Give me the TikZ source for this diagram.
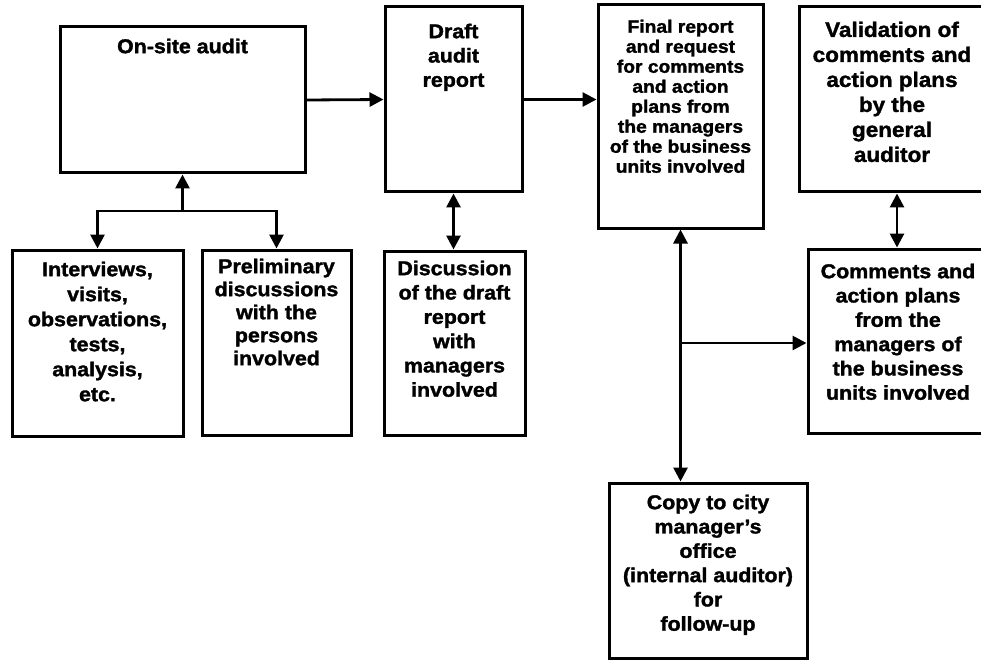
\documentclass[tikz,border=0pt]{standalone}
\usepackage{fontspec}
\setmainfont{Liberation Sans}[FakeStretch=1.07, BoldFeatures={FakeBold=1.6}]
\usetikzlibrary{arrows.meta}
\begin{document}
\begin{tikzpicture}[x=1pt,y=-1pt,
  box/.style={draw, line width=3pt, inner sep=0pt, fill=white},
  txt/.style={font=\bfseries\fontsize{20}{24.3}\selectfont, align=center, inner sep=0pt, anchor=north},
  smalltxt/.style={font=\bfseries\fontsize{18}{20}\selectfont},
  conn/.style={line width=2.8pt},
  tip/.style={-{Triangle[length=14pt,width=14pt]}},
  dtip/.style={{Triangle[length=14pt,width=14pt]}-{Triangle[length=14pt,width=14pt]}},
]
\useasboundingbox[fill=white] (0,0) rectangle (981,668);

% boxes
\node[box, minimum width=245pt, minimum height=146pt] (onsite)   at (182.5,100) {};
\node[box, minimum width=137pt, minimum height=185pt] (draft)    at (453.5,99.5) {};
\node[box, minimum width=165pt, minimum height=223pt] (final)    at (680.5,116.5) {};
\node[box, minimum width=186pt, minimum height=185pt] (valid)    at (892,99.5) {};
\node[box, minimum width=171pt, minimum height=186pt] (interv)   at (97.5,343) {};
\node[box, minimum width=149pt, minimum height=185pt] (prelim)   at (276.5,342.5) {};
\node[box, minimum width=141pt, minimum height=184pt] (discuss)  at (454.5,343) {};
\node[box, minimum width=180pt, minimum height=184pt] (comments) at (898,341) {};
\node[box, minimum width=198pt, minimum height=175pt] (copy)     at (708,570.5) {};

% texts
\node[txt] (t-onsite) at ([yshift=-13pt]onsite.north) {On-site audit};
\node[txt] (t-draft) at ([yshift=-18pt]draft.north) {Draft\\audit\\report};
\node[txt,smalltxt] (t-final) at ([yshift=-16pt]final.north) {Final report\\and request\\for comments\\and action\\plans from\\the managers\\of the business\\units involved};
\node[txt, font=\bfseries\fontsize{21}{25}\selectfont] (t-valid) at ([yshift=-16pt]valid.north) {Validation of\\comments and\\action plans\\by the\\general\\auditor};
\node[txt, font=\bfseries\fontsize{20}{25}\selectfont] (t-interv) at ([yshift=-13pt]interv.north) {Interviews,\\visits,\\observations,\\tests,\\analysis,\\etc.};
\node[txt, font=\bfseries\fontsize{20}{23}\selectfont] (t-prelim) at ([yshift=-10pt]prelim.north) {Preliminary\\discussions\\with the\\persons\\involved};
\node[txt] (t-discuss) at ([yshift=-11pt]discuss.north) {Discussion\\of the draft\\report\\with\\managers\\involved};
\node[txt] (t-comments) at ([yshift=-16pt]comments.north) {Comments and\\action plans\\from the\\managers of\\the business\\units involved};
\node[txt] (t-copy) at ([yshift=-13pt]copy.north) {Copy to city\\manager’s\\office\\(internal auditor)\\for\\follow-up};

% connectors
\draw[conn,tip] (onsite.east) -- (draft.west);
\draw[conn,tip] (draft.east) -- (draft.east -| final.west);

\coordinate (j1) at (onsite.south |- 0,211);
\draw[conn,tip] (j1) -- (onsite.south);
\draw[conn,tip] (j1) -| (interv.north);
\draw[conn,tip] (j1) -| (prelim.north);

\draw[conn,dtip] (draft.south) -- (draft.south |- discuss.north);

\draw[conn,dtip] (final.south) -- (final.south |- copy.north);
\coordinate (j2) at (final.south |- 0,343);
\draw[conn,tip] (j2) -- (j2 -| comments.west);

\coordinate (vx) at (897,0);
\draw[conn,dtip] (vx |- valid.south) -- (vx |- comments.north);
\end{tikzpicture}
\end{document}
